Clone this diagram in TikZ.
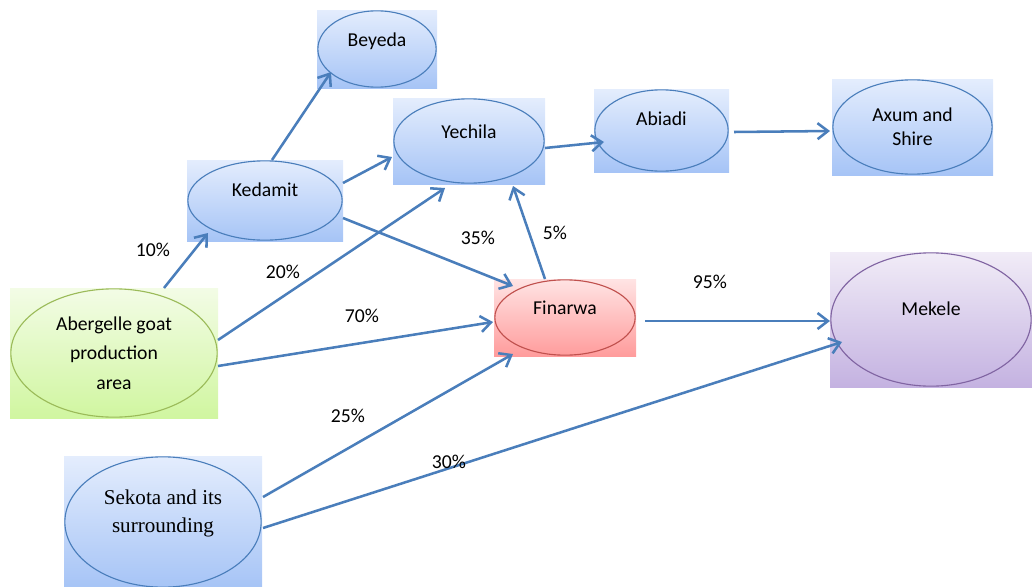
\documentclass[tikz,border=0pt]{standalone}
\usepackage{fontspec}
\setmainfont{Carlito}
\newfontfamily\timesfont{Liberation Serif}
\usetikzlibrary{arrows.meta,shapes,positioning,calc}
\definecolor{flowblue}{RGB}{74,126,187}
\definecolor{bluetop}{RGB}{228,237,253}
\definecolor{bluebot}{RGB}{166,196,246}
\definecolor{blueline}{RGB}{74,126,187}
\definecolor{greentop}{RGB}{243,252,230}
\definecolor{greenbot}{RGB}{208,246,160}
\definecolor{greenline}{RGB}{155,187,89}
\definecolor{redtop}{RGB}{255,228,228}
\definecolor{redbot}{RGB}{255,156,156}
\definecolor{redline}{RGB}{192,80,77}
\definecolor{purpletop}{RGB}{241,236,247}
\definecolor{purplebot}{RGB}{196,178,225}
\definecolor{purpleline}{RGB}{128,100,162}
\tikzset{
    flow/.style={-{Straight Barb[length=2.6mm, width=4mm]}, line width=1.8pt, flowblue},
    boxsize/.style 2 args={minimum width=#1*0.025cm, minimum height=#2*0.025cm},
    oval/.style={path picture={
        \draw[#1, line width=0.8pt] let \p1=($(path picture bounding box.north east)-(path picture bounding box.center)$)
            in (path picture bounding box.center) ellipse [x radius=\x1-0.6pt, y radius=\y1-0.6pt];}},
    nodebox/.style={inner sep=0pt, align=center, font=\fontsize{14}{21}\selectfont},
    textup/.style={text height=9pt, text depth=#1},
    bluebox/.style={nodebox, top color=bluetop, bottom color=bluebot, oval=blueline},
    greenbox/.style={nodebox, top color=greentop, bottom color=greenbot, oval=greenline},
    redbox/.style={nodebox, top color=redtop, bottom color=redbot, oval=redline},
    purplebox/.style={nodebox, top color=purpletop, bottom color=purplebot, oval=purpleline},
    pct/.style={font=\fontsize{14}{17}\selectfont, inner sep=0pt}
}

\begin{document}
\begin{tikzpicture}[x=0.025cm, y=-0.025cm]
    \useasboundingbox (0,0) rectangle (1032,586);

    \node[bluebox, boxsize={120}{78}, textup=13pt] (beyeda) at (377,49) {Beyeda};
    \node[bluebox, boxsize={152}{86}, textup=13pt] (yechila) at (469,141) {Yechila};
    \node[bluebox, boxsize={135}{83}, textup=16pt] (abiadi) at (661.5,130.5) {Abiadi};
    \node[bluebox, boxsize={161}{96}, font=\fontsize{14}{17}\selectfont] (axum) at (912.5,127) {Axum and\\Shire};
    \node[bluebox, boxsize={156}{81}, textup=15pt] (kedamit) at (265,200.5) {Kedamit};
    \node[greenbox, boxsize={208}{130}] (abergelle) at (114,353) {Abergelle goat\\production\\area};
    \node[redbox, boxsize={142}{77}, textup=13.5pt] (finarwa) at (565,317.5) {Finarwa};
    \node[purplebox, boxsize={202}{135}, textup=15pt] (mekele) at (931,319.5) {Mekele};
    \node[bluebox, boxsize={198}{132}, font=\timesfont\fontsize{15}{20}\selectfont, text height=15pt, text depth=0pt] (sekota) at (163,522) {Sekota and its\\surrounding};

    \draw[flow] ($(abergelle)+(50,-65)$) -- ($(kedamit)+(-57,32.5)$);
    \draw[flow] ($(kedamit)+(7,-40.5)$) -- ($(beyeda)+(-46,23)$);
    \draw[flow] ($(kedamit)+(78,-17.5)$) -- ($(yechila)+(-77,16)$);
    \draw[flow] ($(abergelle)+(104,-13)$) -- ($(yechila)+(-24,47)$);
    \draw[flow] ($(kedamit)+(78,17.5)$) -- ($(finarwa)+(-52,-31.5)$);
    \draw[flow] ($(abergelle)+(104,13)$) -- ($(finarwa)+(-72,4.5)$);
    \draw[flow] ($(finarwa)+(-20,-38.5)$) -- ($(yechila)+(44,45)$);
    \draw[flow] ($(yechila)+(76,7)$) -- ($(abiadi)+(-57.5,11.5)$);
    \draw[flow] ($(abiadi)+(72.5,1.5)$) -- ($(axum)+(-82.5,4)$);
    \draw[flow] ($(finarwa)+(80,3.5)$) -- ($(mekele)+(-101,1.5)$);
    \draw[flow] ($(sekota)+(100,-25)$) -- ($(finarwa)+(-52,36.5)$);
    \draw[flow] ($(sekota)+(100,6)$) -- ($(mekele)+(-89,22.5)$);

    \node[pct] (p10) at (153,250) {10\%};
    \node[pct] (p20) at (283,272) {20\%};
    \node[pct] (p35) at (478,238) {35\%};
    \node[pct] (p70) at (362,316) {70\%};
    \node[pct] (p5) at (555,233) {5\%};
    \node[pct] (p95) at (710,282) {95\%};
    \node[pct] (p25) at (348,416) {25\%};
    \node[pct] (p30) at (449,462) {30\%};
\end{tikzpicture}
\end{document}
